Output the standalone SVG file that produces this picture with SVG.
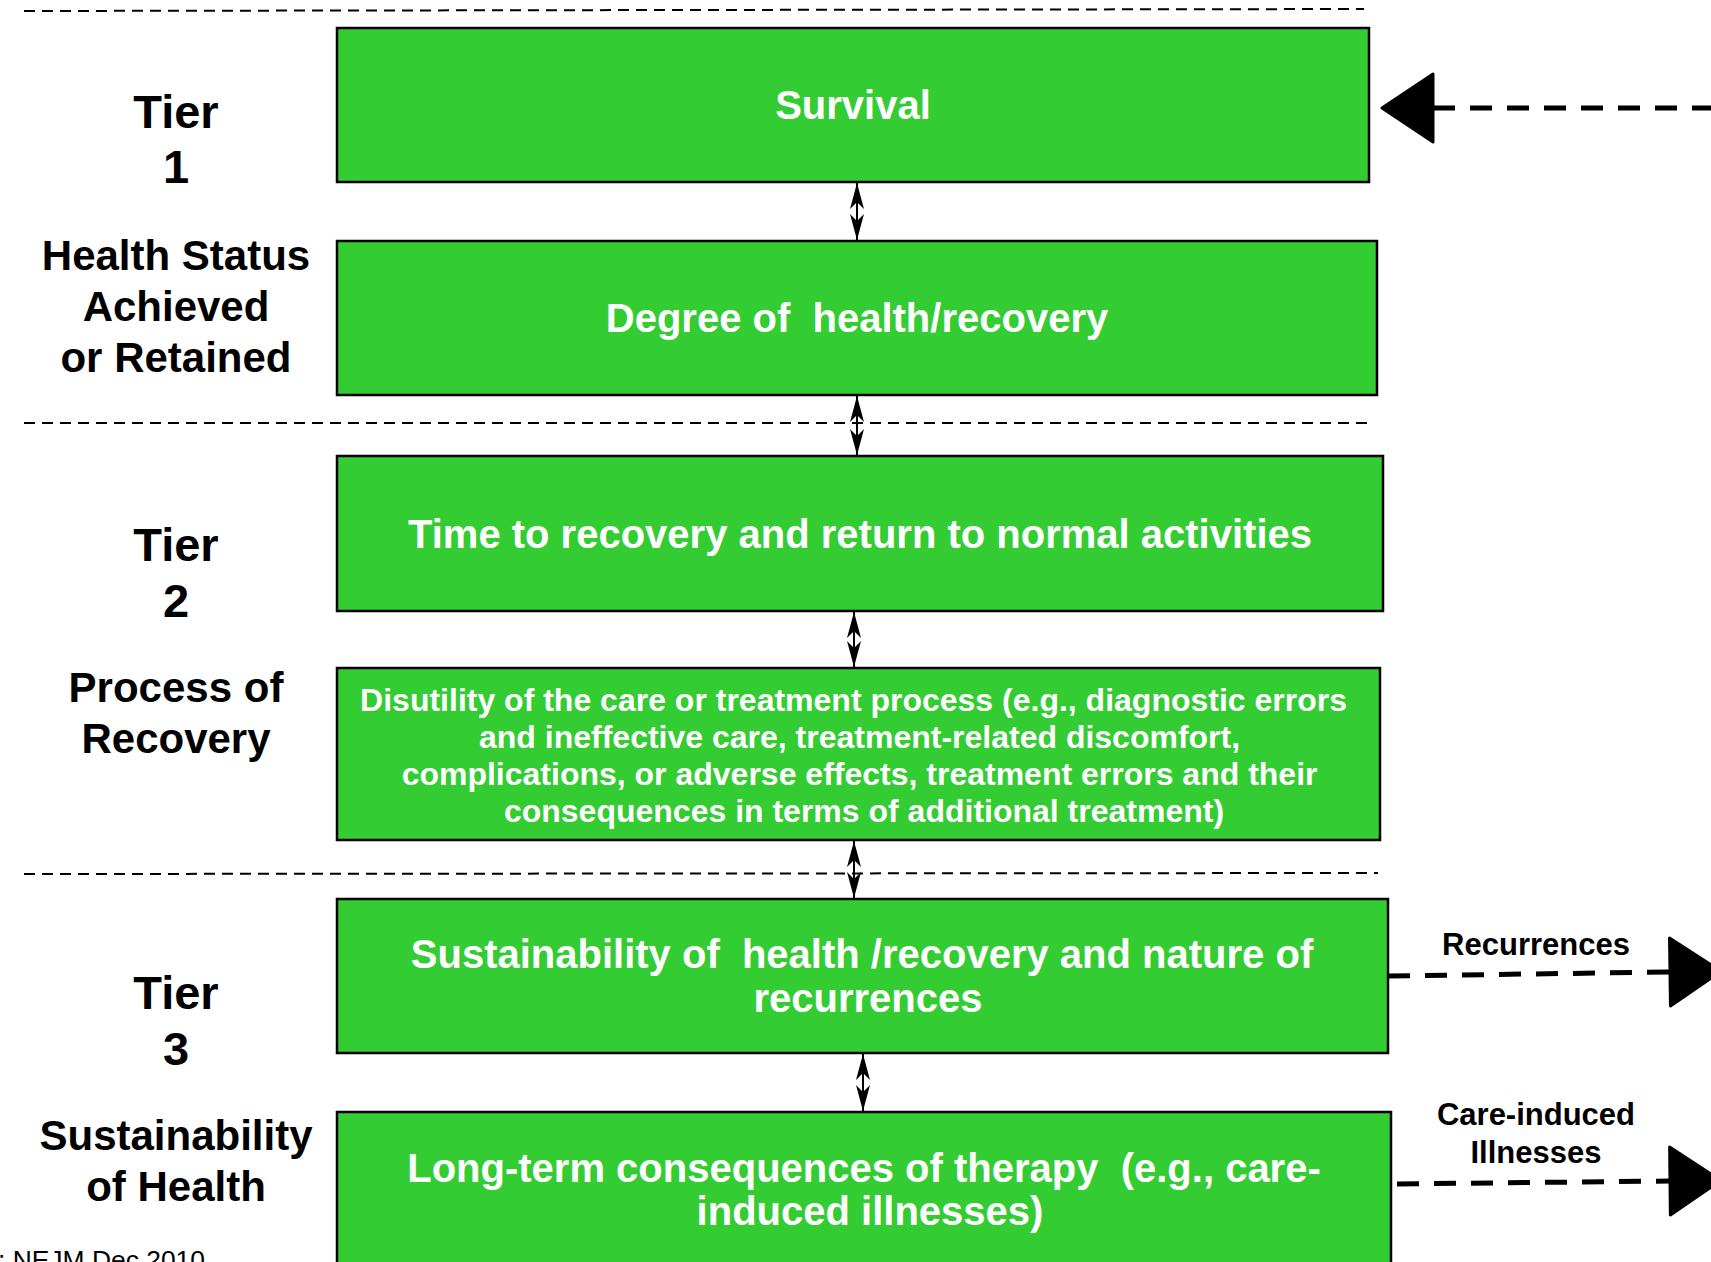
<svg xmlns="http://www.w3.org/2000/svg" width="1711" height="1262" viewBox="0 0 1711 1262">
<style>
.bg{fill:#ffffff}
.box{fill:#33cc33;stroke:#000;stroke-width:2.5}
.bt{font-family:"Liberation Sans",Arial,sans-serif;font-weight:bold;fill:#fff;text-anchor:middle}
.lt{font-family:"Liberation Sans",Arial,sans-serif;font-weight:bold;fill:#000;text-anchor:middle}
.sep{stroke:#000;stroke-width:2;stroke-dasharray:11 7;fill:none}
.dbl{stroke:#000;stroke-width:2;fill:none;marker-start:url(#sm);marker-end:url(#sm)}
.big{stroke:#000;stroke-width:5;stroke-dasharray:22 15;fill:none}
</style>
<defs>
<marker id="sm" markerUnits="userSpaceOnUse" orient="auto-start-reverse" refX="0" refY="0" markerWidth="30" markerHeight="16" overflow="visible">
<path d="M-26,-7 L0,0 L-26,7 L-19,0 z" fill="#000"/>
</marker>
<marker id="bm" markerUnits="userSpaceOnUse" orient="auto-start-reverse" refX="0" refY="0" markerWidth="60" markerHeight="80" overflow="visible">
<path d="M0,-34 L51,0 L0,34 z" fill="#000" stroke="#000" stroke-width="3" stroke-linejoin="round"/>
</marker>
</defs>
<rect class="bg" x="0" y="0" width="1711" height="1262"/>

<g id="separators">
<line class="sep" x1="24" y1="11" x2="1364" y2="9"/>
<line class="sep" x1="24" y1="423" x2="1373" y2="423"/>
<line class="sep" x1="24" y1="874" x2="1378" y2="873"/>
</g>

<g id="tier-labels">
<text class="lt" x="176" y="128" font-size="47">Tier</text>
<text class="lt" x="176" y="183" font-size="47">1</text>
<text class="lt" x="176" y="270" font-size="42">Health Status</text>
<text class="lt" x="176" y="321" font-size="42">Achieved</text>
<text class="lt" x="176" y="372" font-size="42">or Retained</text>
<text class="lt" x="176" y="561" font-size="47">Tier</text>
<text class="lt" x="176" y="617" font-size="47">2</text>
<text class="lt" x="176" y="702" font-size="42">Process of</text>
<text class="lt" x="176" y="753" font-size="42">Recovery</text>
<text class="lt" x="176" y="1009" font-size="47">Tier</text>
<text class="lt" x="176" y="1065" font-size="47">3</text>
<text class="lt" x="176" y="1150" font-size="42">Sustainability</text>
<text class="lt" x="176" y="1201" font-size="42">of Health</text>
</g>

<g id="source">
<text x="-2" y="1269" font-family="'Liberation Sans',Arial,sans-serif" font-size="26" fill="#000" textLength="207" lengthAdjust="spacingAndGlyphs">: NEJM Dec 2010</text>
</g>

<g id="node-survival">
<rect class="box" x="337" y="28" width="1032" height="154"/>
<text class="bt" x="853" y="119" font-size="40">Survival</text>
</g>
<g id="node-degree">
<rect class="box" x="337" y="241" width="1040" height="154"/>
<text class="bt" x="857" y="332" font-size="40" xml:space="preserve">Degree of  health/recovery</text>
</g>
<g id="node-time">
<rect class="box" x="337" y="456" width="1046" height="155"/>
<text class="bt" x="860" y="548" font-size="40">Time to recovery and return to normal activities</text>
</g>
<g id="node-disutility">
<rect class="box" x="337" y="668" width="1043" height="172"/>
<text class="bt" font-size="32">
<tspan x="858" y="711">Disutility of the care or treatment process (e.g., diagnostic errors</tspan>
<tspan x="864" y="748">and ineffective care, treatment-related discomfort,</tspan>
<tspan x="864" y="785">complications, or adverse effects, treatment errors and their</tspan>
<tspan x="864" y="822">consequences in terms of additional treatment)</tspan>
</text>
</g>
<g id="node-sustainability">
<rect class="box" x="337" y="899" width="1051" height="154"/>
<text class="bt" font-size="40" xml:space="preserve"><tspan x="862" y="968">Sustainability of  health /recovery and nature of</tspan><tspan x="868" y="1012">recurrences</tspan></text>
</g>
<g id="node-longterm">
<rect class="box" x="337" y="1112" width="1054" height="200"/>
<text class="bt" font-size="40" xml:space="preserve"><tspan x="864" y="1182">Long-term consequences of therapy  (e.g., care-</tspan><tspan x="870" y="1225">induced illnesses)</tspan></text>
</g>

<g id="connectors">
<line class="dbl" x1="857" y1="183" x2="857" y2="240"/>
<line class="dbl" x1="857" y1="396" x2="857" y2="455"/>
<line class="dbl" x1="854" y1="612" x2="854" y2="667"/>
<line class="dbl" x1="854" y1="841" x2="854" y2="898"/>
<line class="dbl" x1="863" y1="1054" x2="863" y2="1111"/>
<path class="big" d="M1433,108 L1716,108" marker-start="url(#bm)"/>
<path class="big" d="M1388,976 L1670,972" marker-end="url(#bm)"/>
<path class="big" d="M1397,1184 L1670,1181" marker-end="url(#bm)"/>
<text class="lt" x="1536" y="955" font-size="31">Recurrences</text>
<text class="lt" x="1536" y="1125" font-size="31">Care-induced</text>
<text class="lt" x="1536" y="1163" font-size="31">Illnesses</text>
</g>
</svg>
